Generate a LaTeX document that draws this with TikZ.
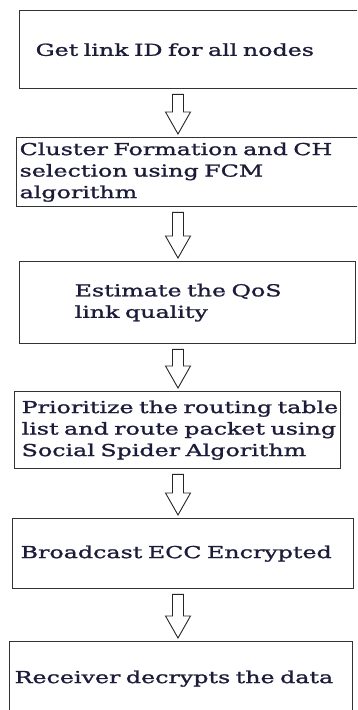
\documentclass[tikz,border=0pt]{standalone}
\usepackage{fontspec}
\usetikzlibrary{calc}
\newfontfamily\boxfont[FakeStretch=1.44,FakeBold=1.3]{DejaVu Serif}
\definecolor{inkblue}{RGB}{28,28,58}
\newcommand{\flowarrow}[2]{%
  \draw[blockarrow] ($(#1.south -| ax)+(-5.5,5)$) -- ($(#1.south -| ax)+(5.5,5)$)
    -- ($(#2.north -| ax)+(5.5,-25)$) -- ($(#2.north -| ax)+(12.5,-25)$)
    -- ($(#2.north -| ax)+(0,-3)$) -- ($(#2.north -| ax)+(-12.5,-25)$)
    -- ($(#2.north -| ax)+(-5.5,-25)$) -- cycle;}
\begin{document}
\begin{tikzpicture}[x=1pt, y=-1pt,
    stepbox/.style={draw=black!80, line width=1.3pt, rectangle, anchor=north west,
      align=left, inner ysep=0pt, text=inkblue,
      font=\boxfont\fontsize{16.5}{21.5}\selectfont},
    blockarrow/.style={draw=black!85, line width=0.9pt, fill=white, line join=miter}]
  \useasboundingbox (0,0) rectangle (357,710);
  \clip (0,0) rectangle (357,710);
  \coordinate (ax) at (178,0);
  \node[stepbox, minimum width=345pt, minimum height=78pt, inner xsep=16pt, text width=313pt]
    (getid) at (19,10) {\mbox{Get link ID for all nodes}};
  \node[stepbox, minimum width=350pt, minimum height=69pt, inner xsep=3pt, text width=344pt]
    (cluster) at (16,137) {\mbox{Cluster Formation and CH}\\ \mbox{selection using FCM}\\ algorithm};
  \node[stepbox, minimum width=336pt, minimum height=82pt, inner xsep=55pt, text width=226pt]
    (qos) at (19,261) {\mbox{Estimate the QoS}\\ \mbox{link quality}};
  \node[stepbox, minimum width=326pt, minimum height=77pt, inner xsep=7pt, text width=312pt]
    (routing) at (14,391) {\mbox{Prioritize the routing table}\\ \mbox{list and route packet using}\\ \mbox{Social Spider Algorithm}};
  \node[stepbox, minimum width=341pt, minimum height=70pt, inner xsep=8pt, text width=325pt]
    (ecc) at (12,518) {\mbox{Broadcast ECC Encrypted}};
  \node[stepbox, minimum width=343pt, minimum height=74pt, inner xsep=5pt, text width=333pt]
    (receiver) at (9,641) {\mbox{Receiver decrypts the data}};
  \flowarrow{getid}{cluster}
  \flowarrow{cluster}{qos}
  \flowarrow{qos}{routing}
  \flowarrow{routing}{ecc}
  \flowarrow{ecc}{receiver}
\end{tikzpicture}
\end{document}
